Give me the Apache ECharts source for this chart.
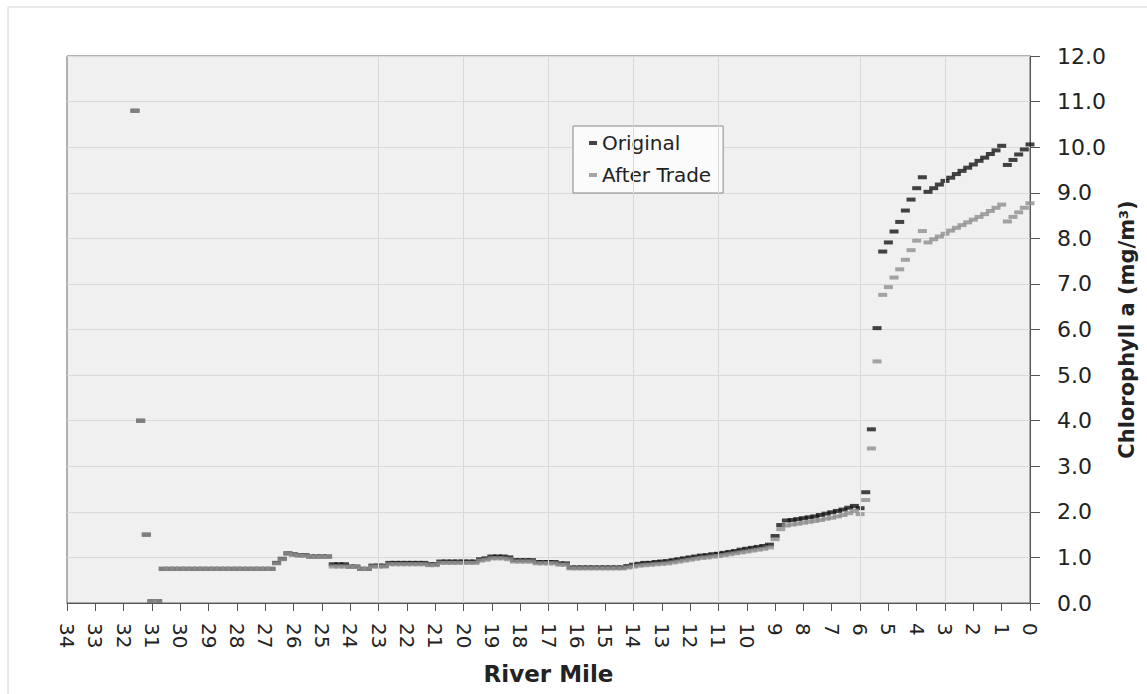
<!DOCTYPE html>
<html>
<head>
<meta charset="utf-8">
<title>Chlorophyll a along the river</title>
<script src="https://cdn.jsdelivr.net/npm/echarts@6/dist/echarts.min.js"></script>
<style>
  html, body { margin: 0; padding: 0; background: #fff; }
  #chart { width: 1147px; height: 694px; }
</style>
</head>
<body>
<div id="chart"></div>
<script>
// river mile of every model segment (upstream on the left)
const riverMile = [
  31.6, 31.4, 31.2, 31.0, 30.8, 30.6, 30.4, 30.2, 30.0, 29.8,
  29.6, 29.4, 29.2, 29.0, 28.8, 28.6, 28.4, 28.2, 28.0, 27.8,
  27.6, 27.4, 27.2, 27.0, 26.8, 26.6, 26.4, 26.2, 26.0, 25.8,
  25.6, 25.4, 25.2, 25.0, 24.8, 24.6, 24.4, 24.2, 24.0, 23.8,
  23.6, 23.4, 23.2, 23.0, 22.8, 22.6, 22.4, 22.2, 22.0, 21.8,
  21.6, 21.4, 21.2, 21.0, 20.8, 20.6, 20.4, 20.2, 20.0, 19.8,
  19.6, 19.4, 19.2, 19.0, 18.8, 18.6, 18.4, 18.2, 18.0, 17.8,
  17.6, 17.4, 17.2, 17.0, 16.8, 16.6, 16.4, 16.2, 16.0, 15.8,
  15.6, 15.4, 15.2, 15.0, 14.8, 14.6, 14.4, 14.2, 14.0, 13.8,
  13.6, 13.4, 13.2, 13.0, 12.8, 12.6, 12.4, 12.2, 12.0, 11.8,
  11.6, 11.4, 11.2, 11.0, 10.8, 10.6, 10.4, 10.2, 10.0, 9.8,
  9.6, 9.4, 9.2, 9.0, 8.8, 8.6, 8.4, 8.2, 8.0, 7.8,
  7.6, 7.4, 7.2, 7.0, 6.8, 6.6, 6.4, 6.2, 6.0, 5.8,
  5.6, 5.4, 5.2, 5.0, 4.8, 4.6, 4.4, 4.2, 4.0, 3.8,
  3.6, 3.4, 3.2, 3.0, 2.8, 2.6, 2.4, 2.2, 2.0, 1.8,
  1.6, 1.4, 1.2, 1.0, 0.8, 0.6, 0.4, 0.2, 0.0
];

const original = [
  10.8, 4.0, 1.5, 0.04, 0.04, 0.75, 0.75, 0.75, 0.75, 0.75,
  0.75, 0.75, 0.75, 0.75, 0.75, 0.75, 0.75, 0.75, 0.75, 0.75,
  0.75, 0.75, 0.75, 0.75, 0.75, 0.88, 0.97, 1.09, 1.07, 1.05,
  1.05, 1.02, 1.02, 1.02, 1.02, 0.85, 0.85, 0.85, 0.80, 0.80,
  0.75, 0.75, 0.82, 0.82, 0.82, 0.88, 0.88, 0.88, 0.88, 0.88,
  0.88, 0.88, 0.85, 0.85, 0.91, 0.91, 0.91, 0.91, 0.91, 0.91,
  0.91, 0.96, 0.98, 1.02, 1.02, 1.02, 1.00, 0.94, 0.94, 0.94,
  0.94, 0.90, 0.90, 0.90, 0.90, 0.87, 0.87, 0.78, 0.78, 0.78,
  0.78, 0.78, 0.78, 0.78, 0.78, 0.78, 0.78, 0.81, 0.84, 0.86,
  0.88, 0.88, 0.90, 0.91, 0.92, 0.94, 0.96, 0.98, 1.00, 1.02,
  1.04, 1.05, 1.07, 1.08, 1.10, 1.12, 1.14, 1.17, 1.19, 1.21,
  1.23, 1.25, 1.28, 1.47, 1.71, 1.81, 1.82, 1.84, 1.86, 1.88,
  1.90, 1.93, 1.96, 1.99, 2.02, 2.05, 2.09, 2.13, 2.08, 2.43,
  3.81, 6.03, 7.71, 7.91, 8.15, 8.36, 8.61, 8.85, 9.10, 9.34,
  9.02, 9.10, 9.18, 9.26, 9.33, 9.41, 9.48, 9.55, 9.62, 9.70,
  9.77, 9.85, 9.93, 10.03, 9.61, 9.72, 9.84, 9.95, 10.06
];

const afterTrade = [
  10.8, 4.0, 1.5, 0.04, 0.04, 0.75, 0.75, 0.75, 0.75, 0.75,
  0.75, 0.75, 0.75, 0.75, 0.75, 0.75, 0.75, 0.75, 0.75, 0.75,
  0.75, 0.75, 0.75, 0.75, 0.75, 0.87, 0.96, 1.08, 1.06, 1.04,
  1.04, 1.01, 1.01, 1.01, 1.01, 0.80, 0.80, 0.80, 0.79, 0.79,
  0.75, 0.75, 0.80, 0.80, 0.80, 0.85, 0.85, 0.85, 0.85, 0.85,
  0.85, 0.85, 0.83, 0.83, 0.88, 0.88, 0.88, 0.88, 0.88, 0.88,
  0.88, 0.93, 0.95, 0.98, 0.98, 0.98, 0.96, 0.91, 0.91, 0.91,
  0.91, 0.87, 0.87, 0.87, 0.87, 0.84, 0.84, 0.76, 0.76, 0.76,
  0.76, 0.76, 0.76, 0.76, 0.76, 0.76, 0.76, 0.78, 0.80, 0.82,
  0.83, 0.84, 0.85, 0.86, 0.87, 0.89, 0.91, 0.93, 0.95, 0.97,
  0.99, 1.00, 1.02, 1.03, 1.05, 1.07, 1.09, 1.11, 1.13, 1.15,
  1.17, 1.19, 1.22, 1.40, 1.62, 1.70, 1.72, 1.74, 1.76, 1.78,
  1.80, 1.82, 1.85, 1.87, 1.90, 1.93, 1.97, 2.02, 1.95, 2.26,
  3.39, 5.30, 6.76, 6.93, 7.14, 7.32, 7.53, 7.74, 7.95, 8.16,
  7.91, 7.98, 8.04, 8.10, 8.17, 8.23, 8.29, 8.35, 8.41, 8.47,
  8.53, 8.60, 8.67, 8.74, 8.37, 8.47, 8.57, 8.67, 8.77
];

// faint vertical gridlines seen in the plot
const gridMiles = [23, 20, 17, 14, 11, 6, 3];

const font = 'DejaVu Sans';
const chart = echarts.init(document.getElementById('chart'), null, { renderer: 'svg' });

chart.setOption({
  animation: false,
  backgroundColor: '#fff',
  textStyle: { fontFamily: font },
  graphic: [{
    type: 'rect',
    shape: { x: 8, y: 7, width: 1200, height: 720 },
    style: { fill: 'none', stroke: '#d4d4d4', lineWidth: 1 },
    silent: true
  }],
  grid: {
    left: 67, right: 117, top: 56, bottom: 91,
    show: true,
    backgroundColor: '#f0f0f0',
    borderColor: '#666',
    borderWidth: 1
  },
  legend: {
    orient: 'vertical',
    left: 573, top: 126,
    padding: [7, 12, 8, 16],
    itemWidth: 8, itemHeight: 4, itemGap: 12,
    backgroundColor: '#fbfbfb',
    borderColor: '#888', borderWidth: 1,
    textStyle: { fontSize: 20, color: '#222', fontFamily: font },
    data: [
      { name: 'Original', icon: 'rect' },
      { name: 'After Trade', icon: 'rect' }
    ]
  },
  xAxis: {
    type: 'value',
    inverse: true,
    min: 0, max: 34, interval: 1,
    name: 'River Mile',
    nameLocation: 'middle',
    nameGap: 59,
    nameTextStyle: { fontSize: 23, fontWeight: 'bold', color: '#222', fontFamily: font },
    axisLine: { onZero: false, lineStyle: { color: '#555' } },
    axisTick: { length: 8, lineStyle: { color: '#555' } },
    axisLabel: { rotate: -90, margin: 20, fontSize: 20, color: '#222', fontFamily: font },
    splitLine: { show: false }
  },
  yAxis: {
    type: 'value',
    position: 'right',
    min: 0, max: 12, interval: 1,
    name: 'Chlorophyll a (mg/m{sup|3})',
    nameLocation: 'middle',
    nameRotate: 90,
    nameGap: 85,
    nameTextStyle: {
      fontSize: 21, fontWeight: 'bold', color: '#222', fontFamily: font,
      rich: { sup: { fontSize: 13, fontWeight: 'bold', color: '#222', fontFamily: font, verticalAlign: 'top' } }
    },
    axisLine: { show: true, lineStyle: { color: '#555' } },
    axisTick: { show: true, length: 10, lineStyle: { color: '#555' } },
    axisLabel: { margin: 27, fontSize: 22, color: '#222', fontFamily: font, formatter: v => v.toFixed(1) },
    splitLine: { show: true, lineStyle: { color: '#d9d9d9', width: 1 } }
  },
  series: [
    {
      name: 'grid',
      type: 'scatter',
      z: 1,
      data: [],
      markLine: {
        silent: true,
        symbol: 'none',
        label: { show: false },
        lineStyle: { color: '#d9d9d9', type: 'solid', width: 1 },
        data: gridMiles.map(m => ({ xAxis: m }))
      }
    },
    {
      name: 'Original',
      type: 'scatter',
      symbol: 'rect',
      symbolSize: [9, 4],
      itemStyle: { color: '#151515' },
      data: riverMile.map((m, i) => [m, original[i]])
    },
    {
      name: 'After Trade',
      type: 'scatter',
      symbol: 'rect',
      symbolSize: [9, 4],
      itemStyle: { color: '#8e8e8e' },
      data: riverMile.map((m, i) => [m, afterTrade[i]])
    }
  ]
});
</script>
</body>
</html>
